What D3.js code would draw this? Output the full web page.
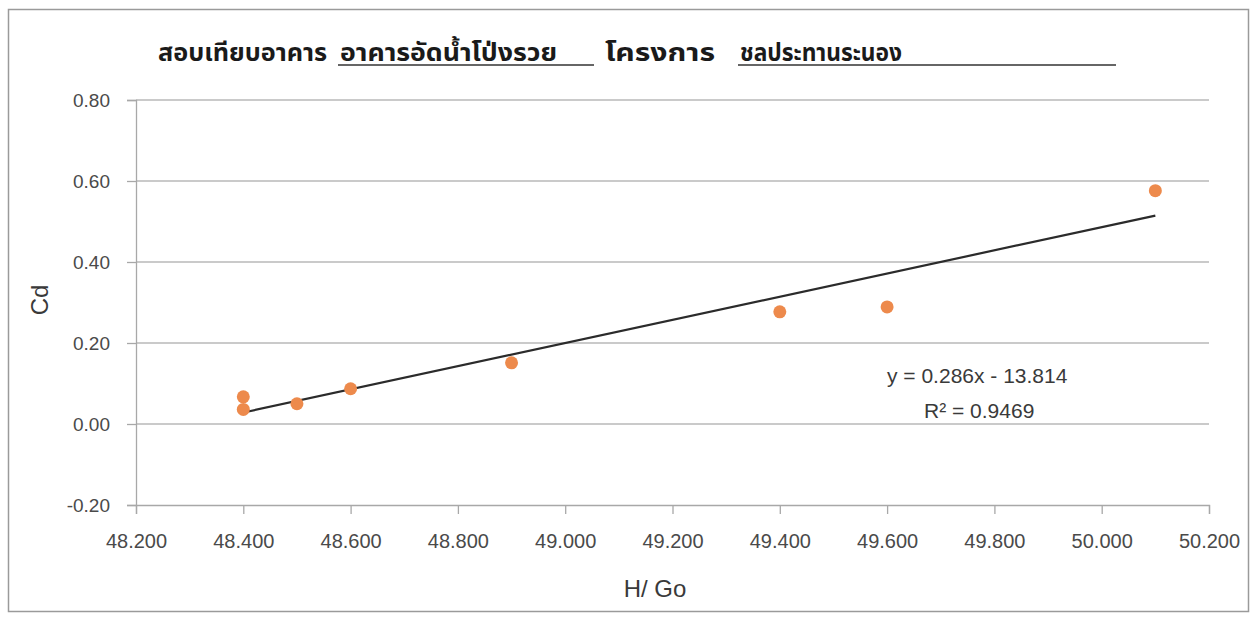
<!DOCTYPE html>
<html>
<head>
<meta charset="utf-8">
<script src="https://cdn.jsdelivr.net/npm/d3@7"></script>
<style>
  body { margin: 0; background: #fff; }
  svg { display: block; }
</style>
</head>
<body>
<script>
// DATA
var hGo = [48.4, 48.4, 48.5, 48.6, 48.9, 49.4, 49.6, 50.1];
var cd = [0.067, 0.036, 0.050, 0.087, 0.151, 0.277, 0.289, 0.576];
var trendSlope = 0.286;
var trendIntercept = -13.814;
var xTicks = [48.2, 48.4, 48.6, 48.8, 49.0, 49.2, 49.4, 49.6, 49.8, 50.0, 50.2];
var yTicks = [-0.2, 0, 0.2, 0.4, 0.6, 0.8];
var titleParts = ['สอบเทียบอาคาร', 'อาคารอัดน้ำโป่งรวย', 'โครงการ', 'ชลประทานระนอง'];

var width = 1255, height = 617;
var margin = { left: 136, right: 1209, top: 100, bottom: 505 };
var labelFont = '"Liberation Sans", Arial, sans-serif';

var svg = d3.select('body').append('svg')
  .attr('width', width)
  .attr('height', height);

// chart border
svg.append('rect')
  .attr('x', 8.5).attr('y', 9.5)
  .attr('width', 1240).attr('height', 602)
  .attr('fill', 'none')
  .attr('stroke', '#9a9a9a')
  .attr('stroke-width', 1.5);

var x = d3.scaleLinear().domain([48.2, 50.2]).range([margin.left, margin.right]);
var y = d3.scaleLinear().domain([-0.2, 0.8]).range([margin.bottom, margin.top]);

function plainFmt(f) {
  return function(d) { return d3.format(f)(d).replace('\u2212', '-'); };
}

// gridlines
svg.append('g')
  .selectAll('line')
  .data(yTicks.filter(function(d) { return d > -0.2; }))
  .enter()
  .append('line')
  .attr('x1', margin.left).attr('x2', margin.right)
  .attr('y1', function(d) { return y(d); })
  .attr('y2', function(d) { return y(d); })
  .attr('stroke', '#b8b8b8')
  .attr('stroke-width', 1.3);

// y axis
var yAxis = svg.append('g')
  .attr('transform', 'translate(' + margin.left + ',0)')
  .call(d3.axisLeft(y).tickValues(yTicks).tickSize(9).tickPadding(17)
    .tickFormat(plainFmt('.2f')));

// x axis
var xAxis = svg.append('g')
  .attr('transform', 'translate(0,' + margin.bottom + ')')
  .call(d3.axisBottom(x).tickValues(xTicks).tickSize(9).tickPadding(20)
    .tickFormat(plainFmt('.3f')));

[yAxis, xAxis].forEach(function(a) {
  a.select('.domain').attr('stroke', '#a8a8a8').attr('stroke-width', 1.3);
  a.selectAll('.tick line').attr('stroke', '#a8a8a8').attr('stroke-width', 1.3);
  a.selectAll('.tick text')
    .attr('fill', '#4a4a4a')
    .style('font-family', labelFont)
    .style('font-size', '19px');
});
xAxis.selectAll('.tick text').style('font-size', '20px');

// trendline
var xExt = d3.extent(hGo);
svg.append('line')
  .attr('x1', x(xExt[0]))
  .attr('y1', y(trendSlope * xExt[0] + trendIntercept))
  .attr('x2', x(xExt[1]))
  .attr('y2', y(trendSlope * xExt[1] + trendIntercept))
  .attr('stroke', '#2b2b2b')
  .attr('stroke-width', 2.2);

// points
svg.append('g')
  .selectAll('circle')
  .data(hGo)
  .enter()
  .append('circle')
  .attr('cx', function(d) { return x(d); })
  .attr('cy', function(d, i) { return y(cd[i]); })
  .attr('r', 6.5)
  .attr('fill', '#ED8A4C');

// equation
svg.append('text')
  .attr('x', 887).attr('y', 383)
  .attr('fill', '#3a3a3a')
  .style('font-family', labelFont)
  .style('font-size', '21px')
  .text('y = 0.286x - 13.814');
svg.append('text')
  .attr('x', 924).attr('y', 418)
  .attr('fill', '#3a3a3a')
  .style('font-family', labelFont)
  .style('font-size', '21px')
  .text('R² = 0.9469');

// axis titles
svg.append('text')
  .attr('transform', 'translate(48,300) rotate(-90)')
  .attr('text-anchor', 'middle')
  .attr('fill', '#3a3a3a')
  .style('font-family', labelFont)
  .style('font-size', '24px')
  .text('Cd');
svg.append('text')
  .attr('x', 655).attr('y', 597)
  .attr('text-anchor', 'middle')
  .attr('fill', '#3a3a3a')
  .style('font-family', labelFont)
  .style('font-size', '24px')
  .text('H/ Go');

// title
var thaiFont = '"Noto Sans Thai", Tahoma, sans-serif';
var titlePos = [158, 340, 605, 740];
var titleLen = [169, 217, 110, 162];
titleParts.forEach(function(t, i) {
  svg.append('text')
    .attr('x', titlePos[i]).attr('y', 61)
    .attr('fill', '#1a1a1a')
    .attr('textLength', titleLen[i])
    .attr('lengthAdjust', 'spacingAndGlyphs')
    .style('font-family', thaiFont)
    .style('font-size', '24px')
    .style('font-weight', 'bold')
    .text(t);
});
// underlines
[[338, 594], [738, 1116]].forEach(function(u) {
  svg.append('line')
    .attr('x1', u[0]).attr('x2', u[1])
    .attr('y1', 65).attr('y2', 65)
    .attr('stroke', '#333')
    .attr('stroke-width', 1.5);
});
</script>
</body>
</html>
